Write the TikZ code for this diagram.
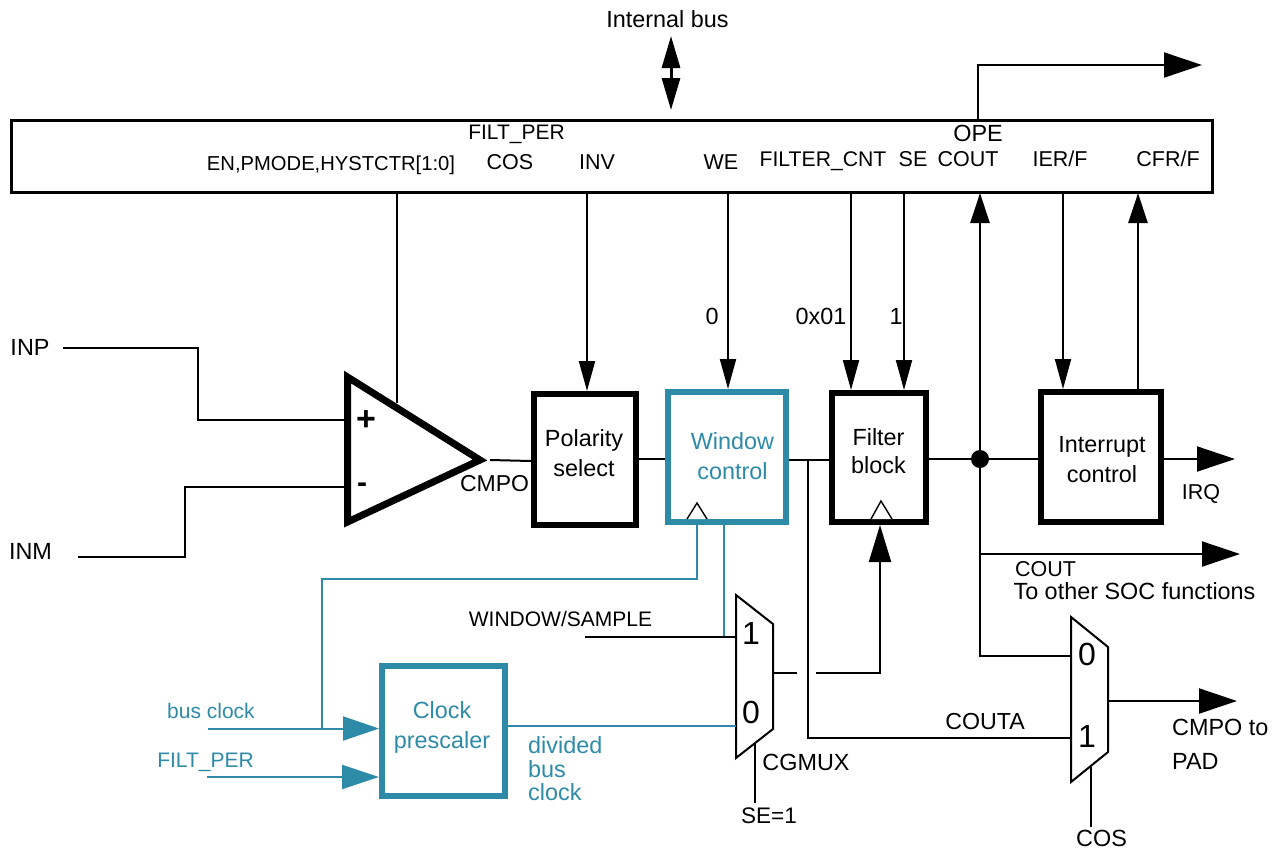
\documentclass[tikz,border=0pt]{standalone}
\usepackage{fontspec}
\setmainfont{Liberation Sans}
\usetikzlibrary{arrows.meta}
\definecolor{tealc}{HTML}{2E8BA8}
\tikzset{
  wire/.style={line width=2pt,draw=black},
  twire/.style={line width=2pt,draw=tealc},
  big/.style={-{Triangle[length=38pt,width=25pt]}},
  dn/.style={-{Triangle[length=30pt,width=16pt]}},
  up/.style={-{Triangle[length=30pt,width=19pt]}},
  thickbox/.style={draw=black,line width=6pt,minimum width=#1,inner sep=0pt,fill=white},
  lbl/.style={anchor=base,inner sep=0pt,font=\fontsize{21.5}{25}\selectfont},
  lbs/.style={anchor=base,inner sep=0pt,font=\fontsize{20.2}{25}\selectfont},
  lbb/.style={anchor=base,inner sep=0pt,font=\fontsize{23.4}{25}\selectfont},
  lbbl/.style={anchor=base west,inner sep=0pt,font=\fontsize{23.4}{25}\selectfont},
  tlbl/.style={lbl,font=\fontsize{21}{25}\selectfont,text=tealc},
  tlbb/.style={lbb,text=tealc},
  tlbbl/.style={lbbl,text=tealc},
  muxd/.style={anchor=base,inner sep=0pt,font=\fontsize{32}{32}\selectfont},
  muxs/.style={draw=black,line width=2pt,line join=miter},
  clk/.style={draw=black,line width=1.4pt,fill=white},
}
\begin{document}
\begin{tikzpicture}[x=1pt,y=-1pt]
\useasboundingbox (0,0) rectangle (1276,849);

% boxes
\node[draw=black,line width=3pt,minimum width=1201pt,minimum height=72pt,inner sep=0pt] (reg) at (611.5,156) {};
\node[thickbox=102pt,minimum height=131pt] (pol) at (585,459.5) {};
\node[thickbox=118pt,minimum height=130pt,draw=tealc] (win) at (727,457) {};
\node[thickbox=94pt,minimum height=129pt] (fil) at (879,457.5) {};
\node[thickbox=120pt,minimum height=130pt] (irq) at (1101,457) {};
\node[thickbox=123pt,minimum height=130pt,draw=tealc] (pre) at (443.5,731) {};

% comparator
\coordinate (ampA) at (347.5,377);
\coordinate (ampB) at (347.5,522);
\coordinate (ampC) at (480,460);
\coordinate (ampOut) at (490,460);
\coordinate (ampTop) at (397,403);
\draw[line width=7pt,line join=miter,miter limit=10] (ampA) -- (ampC) -- (ampB) -- cycle;

% muxes
\coordinate (m1a) at (736,595); \coordinate (m1b) at (773,624); \coordinate (m1c) at (773,729); \coordinate (m1d) at (736,758);
\coordinate (m2a) at (1071,617); \coordinate (m2b) at (1108,647); \coordinate (m2c) at (1108,752); \coordinate (m2d) at (1071,782);
\draw[muxs] (m1a) -- (m1b) -- (m1c) -- (m1d) -- cycle;
\draw[muxs] (m2a) -- (m2b) -- (m2c) -- (m2d) -- cycle;

% clock triangles
\coordinate (wclk) at (697,503); \coordinate (fclk) at (881,501);
\draw[clk,draw=black] (687,519) -- (wclk) -- (707,519);
\draw[clk] (871,519) -- (fclk) -- (892,519);

% free ends
\coordinate (busT) at (671,36); \coordinate (busB) at (671,110);
\coordinate (opeB) at (978,119); \coordinate (opeC) at (978,65); \coordinate (opeE) at (1202,65);
\coordinate (cHyst) at (397,192); \coordinate (cInv) at (587,192); \coordinate (cWe) at (728,192);
\coordinate (cFlt) at (851,192); \coordinate (cSe) at (904,192); \coordinate (cIer) at (1063,192);
\coordinate (cCout) at (980,193); \coordinate (cCfr) at (1138,193);
\coordinate (dot) at (980,459);
\coordinate (inp) at (63,348); \coordinate (inpK) at (198,348); \coordinate (inpL) at (198,420); \coordinate (inpE) at (347,420);
\coordinate (inm) at (78,557); \coordinate (inmK) at (185,557); \coordinate (inmL) at (185,487); \coordinate (inmE) at (347,487);
\coordinate (irqE) at (1235,459);
\coordinate (coutE) at (1240,554); \coordinate (coutS) at (980,554);
\coordinate (m2in0) at (1071,656); \coordinate (m2in0k) at (980,656);
\coordinate (m2in1) at (1071,738); \coordinate (coutaK) at (808,738); \coordinate (coutaT) at (808,460);
\coordinate (m2out) at (1108,701); \coordinate (m2E) at (1237,701);
\coordinate (m2sel) at (1091,767); \coordinate (m2selE) at (1091,827);
\coordinate (m1sel) at (755,743); \coordinate (m1selE) at (755,803);
\coordinate (m1out) at (773,673); \coordinate (m1gap) at (797,673); \coordinate (m1gapB) at (816,673); \coordinate (filK) at (880,673);
\coordinate (wsS) at (585,637); \coordinate (wsE) at (736,637);
\coordinate (wsT) at (724,637);
\coordinate (clkK1) at (697,579); \coordinate (clkK2) at (322,579); \coordinate (clkK3) at (322,729);
\coordinate (busS) at (208,728.5); \coordinate (filS) at (207,777);
\coordinate (m1in0) at (736,726);

% black wires
\draw[wire,line width=3pt,{Triangle[length=32pt,width=18pt]}-{Triangle[length=32pt,width=18pt]}] (busT) -- (busB);
\draw[wire,big] (opeB) -- (opeC) -- (opeE);
\draw[wire] (cHyst) -- (ampTop);
\draw[wire,dn] (cInv) -- (cInv |- pol.north);
\draw[wire,dn] (cWe) -- (cWe |- win.north);
\draw[wire,dn] (cFlt) -- (cFlt |- fil.north);
\draw[wire,dn] (cSe) -- (cSe |- fil.north);
\draw[wire,dn] (cIer) -- (cIer |- irq.north);
\draw[wire,line width=2.5pt,up] (dot) -- (cCout);
\draw[wire,line width=2.5pt,up] (cCfr |- irq.north) -- (cCfr);
\draw[wire] (inp) -- (inpK) -- (inpL) -- (inpE);
\draw[wire] (inm) -- (inmK) -- (inmL) -- (inmE);
\draw[wire] (ampOut) -- (pol.west |- 0,461);
\draw[wire] (pol.east |- 0,459) -- (win.west |- 0,459);
\draw[wire] (win.east |- 0,460) -- (fil.west |- 0,460);
\draw[wire] (fil.east |- dot) -- (irq.west |- dot);
\draw[wire,big] (irq.east |- irqE) -- (irqE);
\draw[wire,big] (coutS) -- (coutE);
\draw[wire] (dot) -- (m2in0k) -- (m2in0);
\draw[wire] (coutaT) -- (coutaK) -- (m2in1);
\draw[wire,big] (m2out) -- (m2E);
\draw[wire] (m2sel) -- (m2selE);
\draw[wire] (m1sel) -- (m1selE);
\draw[wire] (m1out) -- (m1gap);
\draw[wire,line width=2pt,-{Triangle[length=37pt,width=22pt]}] (m1gapB) -- (filK) -- (filK |- fil.south);
\fill (dot) circle (9pt);

% teal wires
\draw[twire] (wclk |- 0,522) -- (clkK1) -- (clkK2) -- (clkK3);
\draw[twire] (wsT |- win.south) -- (wsT);
\draw[wire] (wsS) -- (wsE);
\draw[twire,-{Triangle[length=36pt,width=24pt]}] (busS) -- (pre.west |- busS);
\draw[twire,-{Triangle[length=37pt,width=24pt]}] (filS) -- (pre.west |- filS);
\draw[twire] (pre.east |- m1in0) -- (m1in0);

% register labels
\node[lbl,font=\fontsize{21}{25}\selectfont] (tFiltTop) at (516.5,139) {FILT\_PER};
\node[lbs] (tEn) at (331,170.5) {EN,PMODE,HYSTCTR[1:0]};
\node[lbl] (tCos) at (510,169.5) {COS};
\node[lbl] (tInv) at (597,169) {INV};
\node[lbl] (tWe) at (721,169.5) {WE};
\node[lbl,font=\fontsize{21.2}{25}\selectfont] (tFc) at (823,166) {FILTER\_CNT};
\node[lbl] (tSe) at (913,166.5) {SE};
\node[lbl] (tCout) at (968,166) {COUT};
\node[lbb] (tOpe) at (978,141) {OPE};
\node[lbl] (tIer) at (1060,166) {IER/F};
\node[lbl] (tCfr) at (1168,166) {CFR/F};
\node[lbb] (tBus) at (667.5,27) {Internal bus};
\node[lbb] (tZero) at (712,324) {0};
\node[lbb] (tHex) at (821,324) {0x01};
\node[lbb] (tOne) at (896,324) {1};
\node[lbb] (tInp) at (30,355) {INP};
\node[lbb] (tInm) at (30.5,559) {INM};
\node[lbb,font=\fontsize{23}{25}\selectfont] (tCmpo) at (494.5,491) {CMPO};
\node[lbb] (tPol1) at (584,446) {Polarity};
\node[lbb] (tPol2) at (584,476) {select};
\node[tlbb] (tWin1) at (732.5,449) {Window};
\node[tlbb] (tWin2) at (732.5,479) {control};
\node[lbb] (tFil1) at (878.5,445) {Filter};
\node[lbb] (tFil2) at (878.5,473) {block};
\node[lbb] (tInt1) at (1102,452) {Interrupt};
\node[lbb] (tInt2) at (1102,482) {control};
\node[lbl] (tIrq) at (1201,499) {IRQ};
\node[lbl] (tCoutB) at (1045.5,576) {COUT};
\node[lbb] (tOther) at (1134.5,599) {To other SOC functions};
\node[lbl,font=\fontsize{21}{25}\selectfont] (tWs) at (560.5,626.5) {WINDOW/SAMPLE};
\node[muxd] (tM11) at (751,644.5) {1};
\node[muxd] (tM10) at (751,723.5) {0};
\node[muxd] (tM20) at (1087,665.5) {0};
\node[muxd] (tM21) at (1087,747.5) {1};
\node[lbb] (tCg) at (806,770) {CGMUX};
\node[lbb,font=\fontsize{22.5}{25}\selectfont] (tSe1) at (769,823) {SE=1};
\node[lbb,font=\fontsize{23.2}{25}\selectfont] (tCouta) at (985,729) {COUTA};
\node[lbbl] (tCm) at (1172,735) {CMPO to};
\node[lbbl] (tPad) at (1172,769) {PAD};
\node[lbb] (tCosB) at (1101.5,846) {COS};
\node[tlbl] (tBc) at (211,718) {bus clock};
\node[tlbl] (tFp) at (205.5,767.5) {FILT\_PER};
\node[tlbb] (tCl1) at (442,718) {Clock};
\node[tlbb] (tCl2) at (442,748) {prescaler};
\node[tlbbl] (tD1) at (528,753) {divided};
\node[tlbbl] (tD2) at (528,777) {bus};
\node[tlbbl] (tD3) at (528,800) {clock};
\node[anchor=base,inner sep=0pt,font=\fontsize{34}{36}\selectfont\bfseries] (tPlus) at (366,430) {+};
\node[anchor=base,inner sep=0pt,font=\fontsize{30}{32}\selectfont\bfseries] (tMinus) at (362,492) {-};
\end{tikzpicture}
\end{document}
